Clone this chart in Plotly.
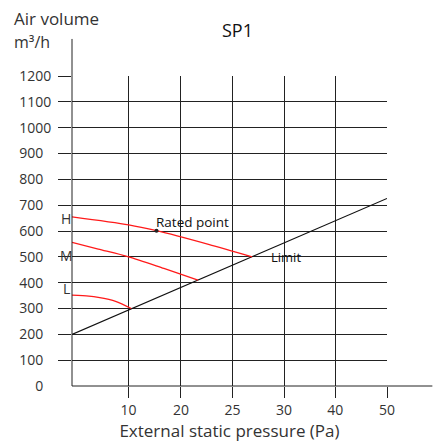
import plotly.graph_objects as go

# ---- data ----
pressure_labels = ["10", "20", "25", "30", "40", "50"]
pressure_pos = [1.078, 2.076, 3.059, 4.04, 5.015, 6.0]   # where each pressure tick sits on the axis

y_ticks = [100, 200, 300, 400, 500, 600, 700, 800, 900, 1000, 1100, 1200]

limit_x = [0, 6.0]
limit_y = [200, 726]

h_x = [0, 1.08, 1.61, 2.6, 3.43]
h_y = [655, 624, 601, 548, 500]

m_x = [0, 0.5, 1.078, 1.75, 2.4]
m_y = [556, 530, 500, 455, 410]

l_x = [0, 0.32, 0.5, 0.83, 1.13]
l_y = [352, 348, 343, 328, 300]

rated_x = [1.61]
rated_y = [601]

FONT = "Open Sans"
TXT = "#333333"
FS = "\u2007"

fig = go.Figure()
fig.add_trace(go.Scatter(x=limit_x, y=limit_y, mode="lines",
                         line=dict(color="#111111", width=1.2), showlegend=False))
for xs, ys in [(h_x, h_y), (m_x, m_y), (l_x, l_y)]:
    fig.add_trace(go.Scatter(x=xs, y=ys, mode="lines",
                             line=dict(color="#ff1a1a", width=1.3, shape="spline", smoothing=0.8),
                             showlegend=False))
fig.add_trace(go.Scatter(x=rated_x, y=rated_y, mode="markers",
                         marker=dict(color="#222222", size=4), showlegend=False))
# dummy trace for the second y axis (label "0")
fig.add_trace(go.Scatter(x=[0], y=[0], yaxis="y2", mode="markers",
                         marker=dict(opacity=0), showlegend=False, hoverinfo="skip"))

ytext = [(str(v) if v >= 1000 else str(v) + FS) for v in y_ticks]

fig.update_layout(
    width=433, height=443,
    margin=dict(l=72, r=46, t=76, b=57, autoexpand=False),
    paper_bgcolor="white", plot_bgcolor="white",
    font=dict(family=FONT, color=TXT, size=14),
    xaxis=dict(range=[0, 6.0], tickvals=pressure_pos, ticktext=pressure_labels,
               showgrid=True, gridcolor="#222222", gridwidth=1,
               ticks="outside", ticklen=11, tickcolor="#222222", tickwidth=1,
               zeroline=False, showline=False, automargin=False,
               tickfont=dict(size=14, color=TXT),
               title=dict(text="External static pressure (Pa)", font=dict(size=17, color=TXT),
                          standoff=2)),
    yaxis=dict(range=[0, 1200], tickvals=y_ticks, ticktext=ytext,
               showgrid=True, gridcolor="#222222", gridwidth=1,
               ticks="outside", ticklen=13, tickcolor="#222222", tickwidth=1,
               zeroline=False, showline=False, ticklabelstandoff=4, automargin=False,
               tickfont=dict(size=14, color=TXT)),
    yaxis2=dict(range=[0, 1200], overlaying="y", side="left",
                tickvals=[0], ticktext=["0" + FS], ticks="outside", ticklen=13,
                tickcolor="rgba(0,0,0,0)", showgrid=False, zeroline=False, showline=False,
                ticklabelstandoff=4, automargin=False, tickfont=dict(size=14, color=TXT)),
    shapes=[
        dict(type="line", xref="paper", yref="paper", x0=0, x1=0, y0=0, y1=1.1195,
             line=dict(color="#222222", width=1)),
        dict(type="line", xref="paper", yref="paper", x0=0, x1=1.144, y0=0, y1=0,
             line=dict(color="#222222", width=1)),
    ],
    annotations=[
        dict(text="SP1", xref="paper", yref="paper", x=(237 - 72) / 315, y=(386 - 30) / 310,
             showarrow=False, font=dict(size=18, color="#111111"), xanchor="center", yanchor="middle"),
        dict(text="Air volume", xref="paper", yref="paper", x=(12 - 72) / 315, y=(386 - 18) / 310,
             showarrow=False, font=dict(size=17, color=TXT), xanchor="left", yanchor="middle"),
        dict(text="m³/h", xref="paper", yref="paper", x=(12 - 72) / 315, y=(386 - 42) / 310,
             showarrow=False, font=dict(size=16, color=TXT), xanchor="left", yanchor="middle"),
        dict(text="H", xref="paper", yref="y", x=(66 - 72) / 315, y=650,
             showarrow=False, font=dict(size=14, color=TXT), xanchor="center", yanchor="middle"),
        dict(text="M", xref="paper", yref="y", x=(66 - 72) / 315, y=507,
             showarrow=False, font=dict(size=14, color=TXT), xanchor="center", yanchor="middle"),
        dict(text="L", xref="paper", yref="y", x=(66 - 72) / 315, y=379,
             showarrow=False, font=dict(size=14, color=TXT), xanchor="center", yanchor="middle"),
        dict(text="Rated point", x=1.56, y=634, showarrow=False,
             font=dict(size=13.5, color="#111111"), xanchor="left", yanchor="middle"),
        dict(text="Limit", x=3.76, y=500, showarrow=False,
             font=dict(size=13, color="#111111"), xanchor="left", yanchor="middle"),
    ],
)

fig.write_html("out.html", post_script="document.body.style.margin='0';",
               config={"displayModeBar": False})
